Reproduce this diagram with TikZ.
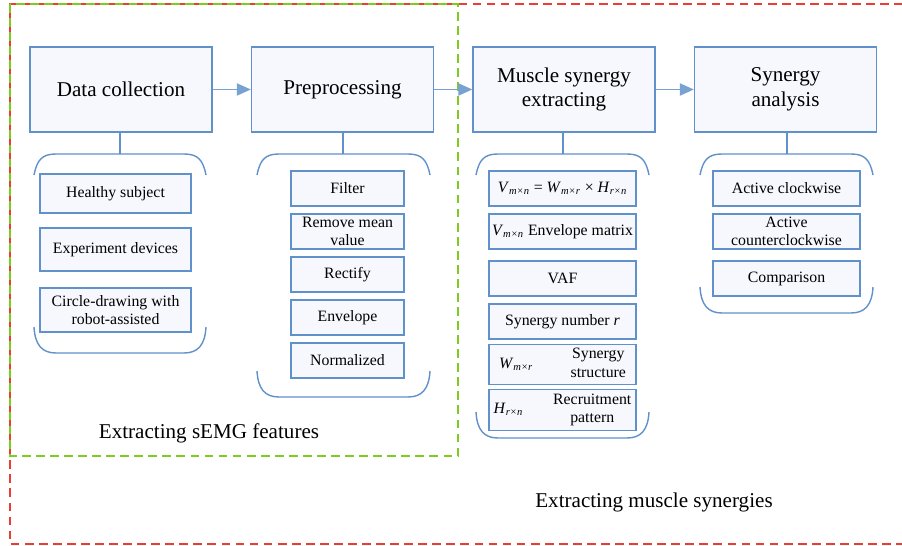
\documentclass[tikz,border=0pt]{standalone}
\usepackage{fontspec}
\setmainfont{Liberation Serif}
\newfontfamily\boxfont{Liberation Serif}
\usetikzlibrary{positioning}
\usetikzlibrary{arrows.meta}
\definecolor{boxblue}{RGB}{96,145,202}
\definecolor{boxfill}{RGB}{246,248,253}
\definecolor{redline}{RGB}{232,62,52}
\definecolor{greenline}{RGB}{126,204,32}
\newcommand{\mtx}[2]{\textit{#1}\textsubscript{\textit{#2}}}
\newcommand{\brkt}[4]{%
\draw[boxblue, line width=0.8pt] (#1,#3+21) .. controls (#1+3,#3+6) and (#1+8,#3) .. (#1+22,#3) -- (#2-22,#3) .. controls (#2-8,#3) and (#2-3,#3+6) .. (#2,#3+21);
\draw[boxblue, line width=0.8pt] (#1,#4-26) .. controls (#1+1,#4-8) and (#1+8,#4) .. (#1+22,#4) -- (#2-22,#4) .. controls (#2-8,#4) and (#2-1,#4-8) .. (#2,#4-26);}

\begin{document}
\begin{tikzpicture}
[
x=0.02cm, y=-0.02cm,
b/.style={rectangle, draw=boxblue, line width=0.8pt, fill=boxfill, text=black, minimum width=3.64cm, minimum height=1.7cm, align=center, font=\boxfont\fontsize{12}{14}\selectfont},
s/.style={rectangle, draw=boxblue, line width=0.8pt, fill=boxfill, text=black, minimum height=0.7cm, inner sep=1pt, align=center, font=\boxfont\fontsize{9}{10.5}\selectfont},
a/.style={-{Triangle[length=8pt, width=7pt]}, draw=boxblue!85, fill=boxblue!85, line width=0.8pt}
]
\useasboundingbox (0,0) rectangle (902,546);

\draw[redline, dashed, dash pattern=on 5pt off 3pt, line width=0.7pt] (903,4) -- (10,4) -- (10,544) -- (903,544);
\draw[greenline, dashed, dash pattern=on 5pt off 3pt, line width=0.7pt] (10,4) rectangle (458,456);

\node[b] (dc) at (121,89.5) {Data collection};
\node[b] (pp) at (342.5,89.5) {Preprocessing};
\node[b] (ms) at (564,89.5) {Muscle synergy\\extracting};
\node[b] (sa) at (785.5,89.5) {Synergy\\analysis};

\draw[a] (dc) -- (pp);
\draw[a] (pp) -- (ms);
\draw[a] (ms) -- (sa);

\coordinate (t1) at (120,154);
\coordinate (t2) at (343,154);
\coordinate (t3) at (563,154);
\coordinate (t4) at (787,154);
\draw[boxblue, line width=0.8pt] (dc.south -| t1) -- (t1);
\draw[boxblue, line width=0.8pt] (pp.south -| t2) -- (t2);
\draw[boxblue, line width=0.8pt] (ms.south -| t3) -- (t3);
\draw[boxblue, line width=0.8pt] (sa.south -| t4) -- (t4);

\brkt{34}{206}{154}{353}
\brkt{257}{430}{154}{397}
\brkt{476}{649}{154}{438}
\brkt{700}{873}{154}{313}

\node[s, minimum width=3.02cm, minimum height=0.78cm] (hs) at (115.5,193.5) {Healthy subject};
\node[s, minimum width=3.02cm, minimum height=0.86cm] (ed) at (115.5,249.5) {Experiment devices};
\node[s, minimum width=3.02cm, minimum height=0.88cm] (cd) at (115.5,310) {Circle-drawing with\\robot-assisted};

\node[s, minimum width=2.26cm] (f1) at (347.5,188.5) {Filter};
\node[s, minimum width=2.26cm] (f2) at (347.5,231.5) {Remove mean\\value};
\node[s, minimum width=2.26cm] (f3) at (347.5,274.5) {Rectify};
\node[s, minimum width=2.26cm] (f4) at (347.5,317.5) {Envelope};
\node[s, minimum width=2.26cm] (f5) at (347.5,360.5) {Normalized};

\node[s, minimum width=2.94cm] (m1) at (562.5,188.5) {\mtx{V}{m×n} = \mtx{W}{m×r} × \mtx{H}{r×n}};
\node[s, minimum width=2.94cm] (m2) at (562.5,231.5) {\mtx{V}{m×n} Envelope matrix};
\node[s, minimum width=2.94cm] (m3) at (562.5,278.5) {VAF};
\node[s, minimum width=2.94cm] (m4) at (562.5,321.5) {Synergy number \textit{r}};
\node[s, minimum width=2.94cm] (m5) at (562.5,364.5) {\mtx{W}{m×r}\hspace{0.75cm}\begin{tabular}{@{}c@{}}Synergy\\structure\end{tabular}};
\node[s, minimum width=2.94cm, minimum height=0.8cm] (m6) at (562.5,410) {\mtx{H}{r×n}\hspace{0.6cm}\begin{tabular}{@{}c@{}}Recruitment\\pattern\end{tabular}};

\node[s, minimum width=2.94cm] (c1) at (786.5,188.5) {Active clockwise};
\node[s, minimum width=2.94cm] (c2) at (786.5,231.5) {Active\\counterclockwise};
\node[s, minimum width=2.94cm] (c3) at (786.5,278.5) {Comparison};

\node[font=\fontsize{12}{14}\selectfont] (l1) at (209,433) {Extracting sEMG features};
\node[font=\fontsize{12}{14}\selectfont] (l2) at (654,502) {Extracting muscle synergies};
\end{tikzpicture}
\end{document}
